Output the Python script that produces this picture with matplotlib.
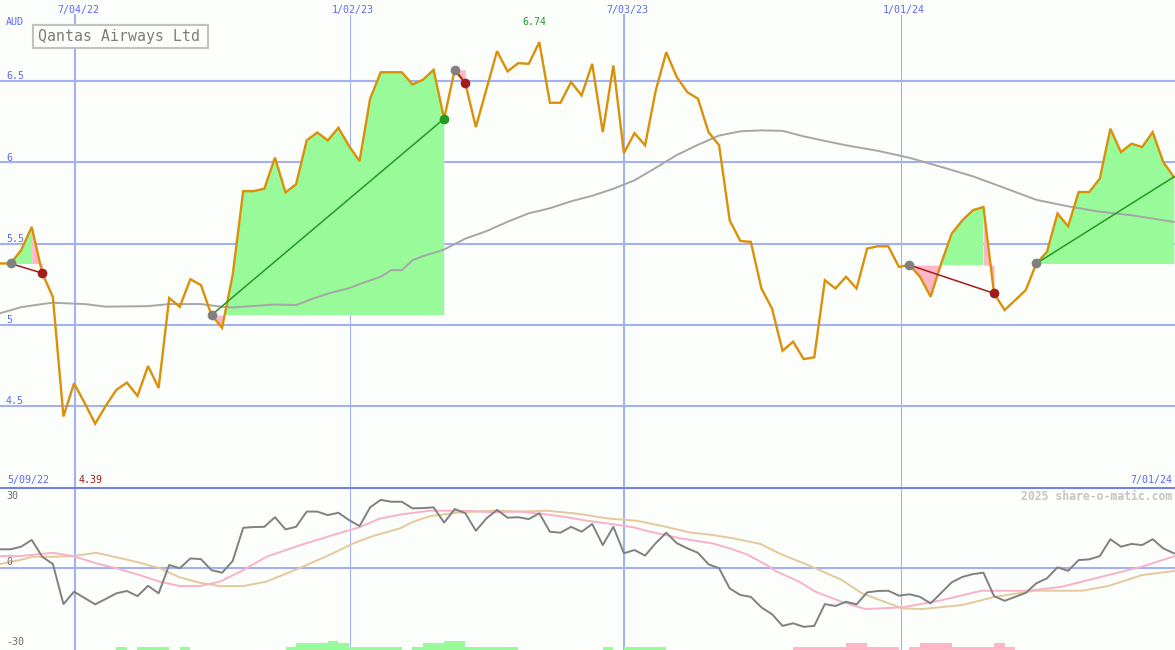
"""
Recria o gráfico semanal da Qantas Airways Ltd (estilo share-o-matic): preço em AUD com média móvel,
operações sombreadas e, embaixo, o oscilador com duas médias e barras de sinal.
"""

import numpy as np
import matplotlib
matplotlib.use('Agg')
import matplotlib.pyplot as plt
from matplotlib.patches import Rectangle

# Preço semanal de fechamento (AUD)
precos = [5.377, 5.377, 5.459, 5.602, 5.317, 5.170, 4.434, 4.639, 4.518, 4.39,
          4.50, 4.598, 4.643, 4.561, 4.745, 4.61, 5.164, 5.110, 5.280, 5.244,
          5.059, 4.981, 5.305, 5.823, 5.823, 5.838, 6.029, 5.815, 5.865, 6.135,
          6.184, 6.135, 6.213, 6.101, 6.008, 6.392, 6.555, 6.555, 6.555, 6.480,
          6.509, 6.570, 6.269, 6.570, 6.488, 6.217, 6.451, 6.685, 6.560, 6.611,
          6.607, 6.74, 6.367, 6.367, 6.494, 6.412, 6.607, 6.186, 6.597, 6.057,
          6.180, 6.105, 6.44, 6.678, 6.525, 6.432, 6.392, 6.186, 6.105, 5.643,
          5.516, 5.510, 5.223, 5.100, 4.839, 4.895, 4.788, 4.799, 5.274, 5.223,
          5.295, 5.223, 5.469, 5.483, 5.483, 5.356, 5.367, 5.295, 5.172, 5.377,
          5.561, 5.643, 5.705, 5.725, 5.193, 5.090, 5.151, 5.213, 5.377, 5.448,
          5.685, 5.606, 5.817, 5.817, 5.900, 6.207, 6.063, 6.115, 6.094, 6.186,
          6.002, 5.910]

# Média móvel longa (cinza), lida em algumas semanas
media_semanas = [0, 2, 4, 5, 8, 10, 14, 16, 19, 21, 22, 26, 28, 30, 31, 33, 34, 36, 37, 38,
                 39, 40, 42, 44, 46, 48, 50, 52, 54, 56, 58, 60, 62, 64, 66, 68, 70, 72, 74, 76,
                 78, 80, 83, 86, 89, 92, 95, 98, 101, 104, 107, 111]
media_valores = [5.070, 5.108, 5.127, 5.135, 5.127, 5.111, 5.114, 5.127, 5.127, 5.110,
                 5.106, 5.124, 5.121, 5.170, 5.191, 5.225, 5.250, 5.295, 5.336, 5.336,
                 5.397, 5.422, 5.463, 5.530, 5.576, 5.634, 5.686, 5.717, 5.760, 5.794,
                 5.837, 5.889, 5.966, 6.045, 6.108, 6.165, 6.191, 6.197, 6.194, 6.160,
                 6.132, 6.105, 6.071, 6.028, 5.972, 5.914, 5.842, 5.769, 5.729, 5.696,
                 5.674, 5.633]

# Operações: semana de entrada, semana de saída e se foi encerrada
op_inicio = [1, 20, 43, 86, 98]
op_fim = [4, 42, 44, 94, 111]
op_encerrada = [True, True, True, True, False]

# Oscilador (linha cinza do painel inferior), uma leitura por semana
oscilador = [8.0, 8.0, 9.1, 12.0, 4.8, 1.7, -15.4, -10.1, -12.8, -15.5,
             -13.2, -10.8, -9.8, -12.0, -7.6, -10.8, 1.3, -0.1, 4.1, 3.8,
             -0.9, -2.0, 3.0, 17.2, 17.5, 17.6, 21.7, 16.5, 17.6, 24.1,
             24.1, 22.6, 23.6, 20.5, 17.9, 25.9, 29.1, 28.3, 28.3, 25.5,
             25.6, 25.9, 19.4, 25.2, 23.4, 15.9, 21.2, 24.8, 21.5, 21.7,
             20.9, 23.4, 15.5, 15.1, 17.6, 15.5, 18.8, 9.8, 17.6, 6.3,
             7.7, 5.3, 10.6, 15.1, 10.6, 8.4, 6.5, 1.6, -0.1, -8.7,
             -11.5, -12.3, -16.8, -19.7, -24.7, -23.6, -25.1, -24.7, -15.4, -16.2,
             -14.4, -15.5, -10.4, -9.8, -9.7, -11.8, -11.2, -12.3, -15.1, -10.6,
             -6.1, -3.8, -2.6, -2.0, -12.0, -14.0, -12.3, -10.6, -6.5, -4.4,
             0.3, -1.2, 3.4, 3.7, 5.1, 12.3, 9.1, 10.3, 9.8, 12.3,
             8.4, 6.3]

# Média curta do oscilador (rosa)
rosa_semanas = [0, 1.9, 5.0, 6.9, 9.1, 11.0, 13.2, 15.1, 17.0, 18.9,
                20.8, 22.7, 25.2, 28.4, 31.5, 34.0, 35.9, 37.8, 40.7, 44.4,
                46.6, 49.2, 51.7, 53.6, 55.5, 58.0, 59.9, 61.2, 64.3, 67.4,
                69.0, 70.6, 72.5, 73.3, 75.6, 77.1, 79.6, 81.8, 85.3, 89.1,
                92.8, 97.2, 100.4, 104.8, 108.0, 111.1]
rosa_valores = [5.1, 5.1, 6.5, 5.1, 2.0, -0.1, -3.0, -5.8, -7.7, -7.7,
                -5.8, -1.6, 4.8, 9.8, 14.1, 17.4, 21.1, 22.8, 24.5, 24.4,
                23.8, 24.1, 22.9, 21.7, 20.2, 18.7, 17.4, 15.8, 12.7, 10.5,
                8.4, 5.9, 1.3, -1.2, -5.9, -10.1, -14.4, -17.5, -16.8, -13.7,
                -9.7, -9.7, -8.0, -3.0, 0.6, 5.1]

# Média longa do oscilador (bege)
bege_semanas = [0, 1.9, 3.0, 5.0, 6.9, 9.1, 11.0, 13.2, 15.1, 17.0,
                18.9, 20.8, 23.0, 25.2, 28.4, 31.5, 33.4, 35.3, 37.8, 39.1,
                40.7, 43.2, 46.6, 49.2, 51.7, 54.8, 57.4, 60.2, 62.7, 65.2,
                67.4, 69.3, 71.9, 73.8, 76.4, 79.6, 81.5, 85.3, 87.2, 91.0,
                94.1, 97.9, 102.3, 104.8, 108.0, 111.1]
bege_valores = [1.7, 3.4, 4.8, 4.8, 5.1, 6.5, 4.6, 2.3, -0.1, -4.0,
                -6.3, -7.7, -7.7, -5.8, 0.1, 6.3, 10.5, 13.7, 16.9, 19.8,
                22.2, 23.6, 24.5, 24.1, 24.5, 23.1, 21.2, 20.2, 17.9, 15.2,
                14.1, 12.7, 10.3, 6.0, 1.3, -5.1, -10.8, -17.2, -17.5, -15.8,
                -12.3, -9.7, -9.7, -7.7, -3.0, -1.2]

# Barras de sinal no rodapé (semana e altura)
barra_verde_semanas = [11, 13, 14, 15, 17, 27, 28, 29, 30, 31, 32, 33, 34, 35, 36, 37,
                       39, 40, 41, 42, 43, 44, 45, 46, 47, 48, 57, 59, 60, 61, 62]
barra_verde_alturas = [1.3, 1.3, 1.3, 1.3, 1.3, 1.3, 3.0, 3.0, 3.0, 3.8, 3.0, 1.3, 1.3, 1.3, 1.3, 1.3,
                       1.3, 3.0, 3.0, 3.8, 3.8, 1.3, 1.3, 1.3, 1.3, 1.3, 1.3, 1.3, 1.3, 1.3, 1.3]
barra_rosa_semanas = [75, 76, 77, 78, 79, 80, 81, 82, 83, 84, 86, 87, 88, 89, 90, 91, 92, 93, 94, 95]
barra_rosa_alturas = [1.3, 1.3, 1.3, 1.3, 1.3, 3.0, 3.0, 1.3, 1.3, 1.3, 1.3, 3.0, 3.0, 3.0,
                      1.3, 1.3, 1.3, 1.3, 3.0, 1.3]

# Datas das linhas verticais (semanas) e eixo de preço
datas_semanas = [7.1, 33.05, 59.05, 85.2]
datas_rotulos = ['7/04/22', '1/02/23', '7/03/23', '1/01/24']
niveis_preco = [4.5, 5, 5.5, 6, 6.5]
niveis_rotulos = ['4.5', '5', '5.5', '6', '6.5']
osc_rotulos = ['30', '0', '-30']

# Cores
FUNDO = '#fcfefc'
GRADE = '#a3b0f2'
AZUL = '#5a68f0'
LARANJA = '#da9008'
VERDE_CLARO = '#98fa98'
ROSA = '#ffb6c6'
VERMELHO = '#a11d1d'
VERDE = '#239a23'
CINZA = '#808080'

W, H = 1175, 650
PX_SEMANA = 10.575
FONTE = 'DejaVu Sans Mono'

semanas = np.arange(len(precos))
precos_arr = np.array(precos)

fig = plt.figure(figsize=(W / 100, H / 100), dpi=100, facecolor=FUNDO)
ax = fig.add_axes([0, 163 / H, 1, 487 / H])
ax2 = fig.add_axes([0, 0, 1, 163 / H])

for a in (ax, ax2):
    a.set_facecolor(FUNDO)
    a.set_xlim(0, W / PX_SEMANA)
    a.set_xticks([])
    a.set_yticks([])
    for s in a.spines.values():
        s.set_visible(False)

ax.set_ylim(4.0, 7.0)
ax2.set_ylim(-35.0, 34.6)

# Grade
for v, rot in zip(niveis_preco, niveis_rotulos):
    ax.axhline(v, color=GRADE, lw=1.5, zorder=1)
    ax.text(6 / W, v + 0.011, rot, transform=ax.get_yaxis_transform(), color=AZUL,
            fontsize=7.2, family=FONTE, ha='left', va='baseline')
ax.text(6 / W, 1 - 25 / 487, 'AUD', transform=ax.transAxes, color=AZUL,
        fontsize=7.2, family=FONTE, ha='left', va='baseline')

for i, (t, rot) in enumerate(zip(datas_semanas, datas_rotulos)):
    lw = 1.5 if i % 2 == 0 else 0.8
    ax.axvline(t, ymax=1 - 15 / 487, color=GRADE, lw=lw, zorder=1)
    ax2.axvline(t, color=GRADE, lw=lw, zorder=1)
    ax.text(t + 0.3, 1 - 13 / 487, rot, transform=ax.get_xaxis_transform(), color=AZUL,
            fontsize=7.2, family=FONTE, ha='center', va='baseline')


def sombreia(i0, i1, perdeu):
    """
    Sombreia a área entre o preço e o nível de entrada da operação
    """
    entrada = precos_arr[i0]
    fim = i1 - 1 if perdeu else i1
    xs = semanas[i0:fim + 1]
    ys = precos_arr[i0:fim + 1]
    if len(xs) > 1:
        ax.fill_between(xs, ys, entrada, where=ys >= entrada, interpolate=True,
                        color=VERDE_CLARO, lw=0, zorder=2)
        ax.fill_between(xs, ys, entrada, where=ys <= entrada, interpolate=True,
                        color=ROSA, lw=0, zorder=2)
    if perdeu:
        ax.fill_between(semanas[fim:i1 + 1], precos_arr[fim:i1 + 1], entrada,
                        color=ROSA, lw=0, zorder=2)


for i0, i1, enc in zip(op_inicio, op_fim, op_encerrada):
    perdeu = precos[i1] < precos[i0]
    sombreia(i0, i1, perdeu)
    cor = VERMELHO if perdeu else VERDE
    ax.plot([i0, i1], [precos[i0], precos[i1]], color=cor, lw=1.1, zorder=5)
    ax.plot(i0, precos[i0], 'o', color=CINZA, ms=7, mew=0, zorder=6)
    if enc:
        ax.plot(i1, precos[i1], 'o', color=cor, ms=7, mew=0, zorder=6)

# Média móvel e preço
ax.plot(media_semanas, media_valores, color='#a6a6a6', lw=1.4, zorder=3)
ax.plot(semanas, precos, color=LARANJA, lw=1.7, zorder=4, solid_joinstyle='miter')

# Caixa com o nome da empresa
fig.add_artist(Rectangle((33 / W, 1 - 48 / H), 175 / W, 23 / H, transform=fig.transFigure,
                         facecolor=FUNDO, edgecolor='#c2c2c2', lw=1.5, zorder=10))
fig.text(38 / W, 1 - 36.5 / H, 'Qantas Airways Ltd', color='#7c7c7c', fontsize=10.7,
         family=FONTE, ha='left', va='center', zorder=11)

# Máximo, mínimo e datas extremas
fig.text(534 / W, 1 - 25 / H, '6.74', color=VERDE, fontsize=7.2, family=FONTE,
         ha='center', va='baseline')
fig.text(79 / W, 1 - 483 / H, '4.39', color=VERMELHO, fontsize=7.2, family=FONTE,
         ha='left', va='baseline')
fig.text(7 / W, 1 - 483 / H, '5/09/22', color=AZUL, fontsize=7.2, family=FONTE,
         ha='left', va='baseline')
fig.text(1172 / W, 1 - 483 / H, '7/01/24', color=AZUL, fontsize=7.2, family=FONTE,
         ha='right', va='baseline')

# Painel inferior
ax2.axhline(0, color=GRADE, lw=1.5, zorder=1)
ax2.axhline(34.6, color='#7280ea', lw=2.2, zorder=8)
ax2.bar(barra_verde_semanas, barra_verde_alturas, bottom=-35.0, width=1, align='edge',
        color=VERDE_CLARO, lw=0, zorder=2)
ax2.bar(barra_rosa_semanas, barra_rosa_alturas, bottom=-35.0, width=1, align='edge',
        color=ROSA, lw=0, zorder=2)
ax2.plot(bege_semanas, bege_valores, color='#e3c99b', lw=1.4, zorder=3)
ax2.plot(rosa_semanas, rosa_valores, color='#f8b2c8', lw=1.4, zorder=4)
ax2.plot(semanas, oscilador, color=CINZA, lw=1.4, zorder=5)

# Rótulos do oscilador (linha de base em pixels da figura)
for rot, y_px in zip(osc_rotulos, [499, 565, 645]):
    fig.text(6 / W, 1 - y_px / H, rot, color='#6c6c6c', fontsize=7.2, family=FONTE,
             ha='left', va='baseline')

fig.text(1172 / W, 1 - 500 / H, '2025 share-o-matic.com', color='#c4c4c4', fontsize=8.3,
         family=FONTE, weight='bold', ha='right', va='baseline')

fig.savefig('out.png', dpi=100, facecolor=FUNDO)
